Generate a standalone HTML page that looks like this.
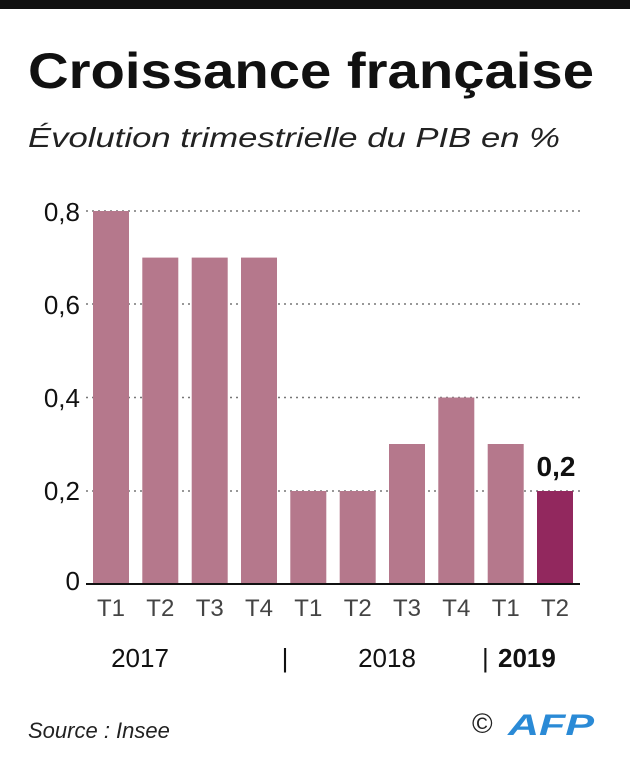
<!DOCTYPE html>
<html><head><meta charset="utf-8"><style>
body{margin:0;background:#fff;}
svg{display:block;font-family:"Liberation Sans",sans-serif;}
</style></head><body>
<svg width="630" height="768" xmlns="http://www.w3.org/2000/svg">
<rect x="0" y="0" width="630" height="9" fill="#111"/>
<text x="28" y="88" font-size="50" font-weight="bold" fill="#111" textLength="566" lengthAdjust="spacingAndGlyphs">Croissance française</text>
<text x="28" y="147" font-size="28" font-style="italic" fill="#222" textLength="532" lengthAdjust="spacingAndGlyphs">Évolution trimestrielle du PIB en %</text>
<g stroke="#777" stroke-width="1.5" stroke-dasharray="2,4">
<line x1="86" y1="211" x2="580" y2="211"/>
<line x1="86" y1="304" x2="580" y2="304"/>
<line x1="86" y1="397.5" x2="580" y2="397.5"/>
<line x1="86" y1="491" x2="580" y2="491"/>
</g>
<g font-size="26" fill="#111" text-anchor="end">
<text x="80" y="221">0,8</text>
<text x="80" y="314">0,6</text>
<text x="80" y="407">0,4</text>
<text x="80" y="500">0,2</text>
<text x="80" y="590">0</text>
</g>
<g fill="#b5788c">
<rect x="93" y="211" width="36" height="373"/>
<rect x="142.3" y="257.6" width="36" height="326.4"/>
<rect x="191.7" y="257.6" width="36" height="326.4"/>
<rect x="241" y="257.6" width="36" height="326.4"/>
<rect x="290.3" y="491" width="36" height="93"/>
<rect x="339.7" y="491" width="36" height="93"/>
<rect x="389" y="444" width="36" height="140"/>
<rect x="438.3" y="397.5" width="36" height="186.5"/>
<rect x="487.7" y="444" width="36" height="140"/>
</g>
<rect x="537" y="491" width="36" height="93" fill="#92285e"/>
<line x1="86" y1="584" x2="580" y2="584" stroke="#111" stroke-width="2"/>
<text x="556" y="476" font-size="28" font-weight="bold" fill="#111" text-anchor="middle">0,2</text>
<g font-size="24" fill="#444" text-anchor="middle">
<text x="111" y="616">T1</text><text x="160.3" y="616">T2</text><text x="209.7" y="616">T3</text><text x="259" y="616">T4</text>
<text x="308.3" y="616">T1</text><text x="357.7" y="616">T2</text><text x="407" y="616">T3</text><text x="456.3" y="616">T4</text>
<text x="505.7" y="616">T1</text><text x="555" y="616">T2</text>
</g>
<g font-size="26" fill="#111">
<text x="140" y="667" text-anchor="middle">2017</text>
<text x="285" y="667" text-anchor="middle">|</text>
<text x="387" y="667" text-anchor="middle">2018</text>
<text x="482" y="667">|</text>
<text x="498" y="667" font-weight="bold">2019</text>
</g>
<text x="28" y="738" font-size="22" font-style="italic" fill="#222">Source : Insee</text>
<text x="472" y="733" font-size="28" fill="#222">©</text>
<text x="508" y="735" font-size="30" font-weight="bold" font-style="italic" fill="#2a8ad6" textLength="86" lengthAdjust="spacingAndGlyphs">AFP</text>
</svg>
</body></html>
